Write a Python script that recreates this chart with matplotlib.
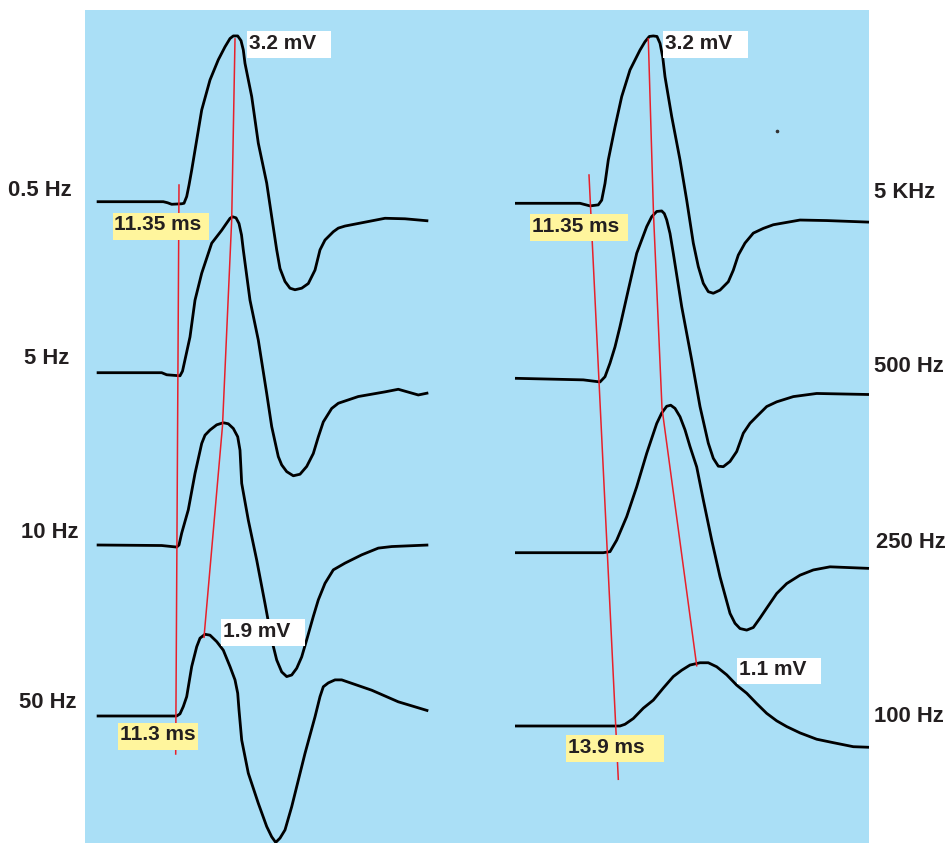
import matplotlib
matplotlib.use("Agg")
import matplotlib.pyplot as plt
from matplotlib.patches import Rectangle

plt.rcParams["font.family"] = ["Liberation Sans", "DejaVu Sans"]

# ---------------------------------------------------------------------------
# Recorded compound action potentials.
# t_*: position along the sweep (canvas units), v_*: amplitude in mV
# relative to the pre-stimulus baseline.
# ---------------------------------------------------------------------------
left_labels = ["0.5 Hz", "5 Hz", "10 Hz", "50 Hz"]
right_labels = ["5 KHz", "500 Hz", "250 Hz", "100 Hz"]

t_0p5hz = [96.7, 163.3, 167.5, 171.7, 181.7, 184, 186.7, 189, 191.7, 196.7, 201.7, 210,
           218.3, 225, 230, 233.3, 237.7, 241, 243.3, 245, 251.7, 258.3, 266.7, 271.7,
           276.7, 280, 285, 290, 295, 301.7, 308.3, 315, 320, 325, 333.3, 338.3, 345,
           358.3, 385, 405, 428.3]
v_0p5hz = [0, 0, -0.02, -0.05, -0.04, -0.03, 0.10, 0.32, 0.61, 1.19, 1.77, 2.35,
           2.74, 2.99, 3.15, 3.20, 3.20, 3.11, 2.93, 2.67, 2.03, 1.13, 0.36, -0.29,
           -0.93, -1.29, -1.54, -1.67, -1.70, -1.67, -1.58, -1.32, -0.93, -0.74, -0.58, -0.51, -0.47,
           -0.42, -0.32, -0.33, -0.37]

t_5hz = [96.7, 161.7, 166.7, 180, 182.5, 185, 190, 195, 201.7, 211.7, 221.7, 226, 230,
         232.5, 236, 239, 241.5, 243.3, 250, 258.3, 266.7, 271.7, 278.3, 281.7, 286.7,
         293.3, 300, 306.7, 313.3, 318.3, 323.3, 331.7, 338.3, 358.3, 385, 398.3, 418.3, 428.3]
v_5hz = [0, 0, -0.04, -0.06, 0.03, 0.25, 0.69, 1.40, 1.92, 2.50, 2.75, 2.87, 2.98,
         3.01, 2.99, 2.88, 2.66, 2.37, 1.40, 0.63, -0.40, -1.04, -1.62, -1.78, -1.91,
         -1.99, -1.96, -1.81, -1.56, -1.24, -0.95, -0.69, -0.59, -0.46, -0.37, -0.32, -0.43, -0.39]

t_10hz = [96.7, 161.7, 176.7, 179, 181.7, 188.3, 195, 201.7, 205, 210, 216.7, 223.3,
          228.3, 233.3, 237.7, 240, 241.7, 248.3, 256.7, 265, 271.7, 276.7, 281.7, 286.7,
          291.7, 296.7, 301.7, 306.7, 313.3, 318.3, 325, 333.3, 345, 361.7, 378.3, 391.7, 428.3]
v_10hz = [0, -0.01, -0.04, 0, 0.23, 0.68, 1.38, 1.96, 2.12, 2.22, 2.32, 2.36,
          2.34, 2.25, 2.09, 1.83, 1.19, 0.48, -0.29, -1.13, -1.83, -2.22, -2.45, -2.54,
          -2.51, -2.38, -2.16, -1.83, -1.38, -1.06, -0.74, -0.48, -0.35, -0.19, -0.06, -0.03, 0]

t_50hz = [96.7, 176.7, 180, 183.3, 186.7, 191.7, 196.7, 200, 205, 210, 216.7, 223.3,
          230, 235, 237.7, 239, 241.7, 248.3, 258.3, 266.7, 271.7, 275.7, 280, 285,
          291.7, 305, 315, 320, 323.3, 328.3, 335, 341.7, 351.7, 371.7, 398.3, 428.3]
v_50hz = [0, 0, 0.05, 0.22, 0.45, 1.15, 1.61, 1.81, 1.90, 1.88, 1.73, 1.53,
          1.15, 0.84, 0.53, 0.14, -0.56, -1.33, -2.03, -2.57, -2.81, -2.94, -2.84, -2.65,
          -2.11, -0.87, -0.02, 0.45, 0.68, 0.77, 0.84, 0.84, 0.76, 0.60, 0.33, 0.12]

t_5khz = [515, 580, 590, 598.3, 601.7, 605, 608.3, 615, 621.7, 630, 640, 645, 649.3,
          653.3, 657, 660, 662.7, 665, 671.7, 680, 686.7, 693.3, 698.3, 703.3, 708.3,
          713.3, 720, 728.3, 733.3, 738.3, 745, 753.3, 763.3, 773.3, 800, 826.7, 869]
v_5khz = [0, 0, -0.05, -0.03, 0.06, 0.38, 0.83, 1.46, 2.04, 2.55, 2.93, 3.09, 3.19,
          3.20, 3.19, 3.06, 2.80, 2.42, 1.66, 0.83, 0.06, -0.76, -1.21, -1.53, -1.69,
          -1.72, -1.66, -1.50, -1.28, -0.99, -0.76, -0.57, -0.48, -0.41, -0.32, -0.33, -0.36]

t_500hz = [515, 583.3, 600, 605, 610, 615, 620, 628.3, 636.7, 646.7, 651.7, 656.7,
           661.7, 664.3, 666.7, 670, 673.3, 681.7, 691.7, 700, 708.3, 713.3, 718.3, 723.3,
           730, 736.7, 743.3, 750, 756.7, 766.7, 776.7, 793.3, 816.7, 869]
v_500hz = [0, -0.03, -0.07, 0.03, 0.29, 0.60, 0.99, 1.69, 2.39, 2.90, 3.09, 3.19,
           3.20, 3.15, 3.03, 2.77, 2.39, 1.37, 0.35, -0.54, -1.24, -1.53, -1.68, -1.69,
           -1.59, -1.40, -1.05, -0.86, -0.73, -0.54, -0.45, -0.35, -0.29, -0.31]

t_250hz = [515, 603.3, 610, 616.7, 626.7, 636.7, 646.7, 656.7, 661.7, 666.7, 670.7, 675,
           680, 685, 690, 696.7, 703.3, 711.7, 720, 730, 735, 740, 746.7, 753.3, 760,
           766.7, 776.7, 786.7, 800, 813.3, 830, 869]
v_250hz = [0, 0, 0.02, 0.24, 0.69, 1.26, 1.90, 2.47, 2.67, 2.80, 2.82, 2.76,
           2.60, 2.35, 2.03, 1.64, 1.01, 0.24, -0.46, -1.16, -1.35, -1.45, -1.48, -1.43, -1.25,
           -1.06, -0.78, -0.59, -0.43, -0.33, -0.27, -0.30]

t_100hz = [515, 620, 625, 633.3, 643.3, 653.3, 663.3, 673.3, 681.7, 690, 700, 708.3,
           716.7, 726.7, 736.7, 746.7, 756.7, 766.7, 776.7, 786.7, 800, 816.7, 833.3, 853.3, 869]
v_100hz = [0, 0, 0.03, 0.13, 0.31, 0.45, 0.66, 0.86, 0.97, 1.06, 1.10, 1.10,
           1.03, 0.89, 0.71, 0.57, 0.39, 0.22, 0.09, -0.01, -0.12, -0.23, -0.29, -0.36, -0.37]

# onset latencies reported for the first and last sweep of each column
latency_left = ["11.35 ms", "11.3 ms"]
latency_right = ["11.35 ms", "13.9 ms"]

# ---------------------------------------------------------------------------
# Layout: baseline row and display gain (canvas units per mV) of each sweep
# ---------------------------------------------------------------------------
W, H = 947, 843
left_traces = [(t_0p5hz, v_0p5hz), (t_5hz, v_5hz), (t_10hz, v_10hz), (t_50hz, v_50hz)]
right_traces = [(t_5khz, v_5khz), (t_500hz, v_500hz), (t_250hz, v_250hz), (t_100hz, v_100hz)]
left_base = [201.7, 372.7, 545.0, 716.0]
right_base = [203.3, 378.3, 552.7, 726.0]
left_gain = [51.8, 51.8, 51.8, 43.0]
right_gain = [52.3, 52.3, 52.3, 57.5]

BG = "#aadff6"
INK = "#231f20"
RED = "#e8202a"
YELLOW = "#fff59d"
FS_TAG = 15
FS_NAME = 15.8

fig = plt.figure(figsize=(W / 100, H / 100), dpi=100)
ax = fig.add_axes([0, 0, 1, 1])
ax.set_xlim(0, W)
ax.set_ylim(H, 0)
ax.axis("off")

ax.add_patch(Rectangle((85, 10), 869 - 85, H - 10, facecolor=BG, edgecolor="none", zorder=0))


def to_canvas(v, base, gain):
    return [base - gain * a for a in v]


def peak_point(t, v, base, gain):
    i = max(range(len(v)), key=lambda k: v[k])
    return t[i], base - gain * v[i], v[i]


for traces, bases, gains in ((left_traces, left_base, left_gain),
                             (right_traces, right_base, right_gain)):
    for (t, v), b, g in zip(traces, bases, gains):
        ax.plot(t, to_canvas(v, b, g), color="black", lw=2.0,
                solid_joinstyle="round", solid_capstyle="butt", zorder=2)

# stray speck on the recording
ax.plot([776.7], [131], marker="o", ms=1.6, color="#333333", zorder=2)

# latency guides (onset) and peak guides
ax.plot([179, 175.7], [185, 754], color=RED, lw=1.1, zorder=3)
ax.plot([589, 618.3], [175, 779.3], color=RED, lw=1.1, zorder=3)

left_peaks = [peak_point(t, v, b, g) for (t, v), b, g in zip(left_traces, left_base, left_gain)]
right_peaks = [peak_point(t, v, b, g) for (t, v), b, g in zip(right_traces, right_base, right_gain)]
guide_x_left = [235, 231.7, 222.5, 204]
guide_x_right = [648.3, 653.5, 662, 696.7]
ax.plot(guide_x_left, [p[1] + 3 for p in left_peaks], color=RED, lw=1.1, zorder=3)
ax.plot(guide_x_right, [p[1] + 3 for p in right_peaks], color=RED, lw=1.1, zorder=3)


def tag(x, y, w, h, text, face):
    ax.add_patch(Rectangle((x, y), w, h, facecolor=face, edgecolor="none", zorder=4))
    ax.text(x + 2, y + 17.7, text, fontsize=FS_TAG, fontweight="bold", color=INK,
            ha="left", va="baseline", zorder=5)


# amplitude tags (values taken from the sweeps' peaks)
tag(247.3, 31, 83.4, 26.7, f"{left_peaks[0][2]:.1f} mV", "white")
tag(221, 619, 84, 26.7, f"{left_peaks[3][2]:.1f} mV", "white")
tag(663.3, 31, 84.7, 26.7, f"{right_peaks[0][2]:.1f} mV", "white")
tag(736.7, 657.7, 84.3, 26.7, f"{right_peaks[3][2]:.1f} mV", "white")

# latency tags
tag(112.5, 212.5, 96, 27.5, latency_left[0], YELLOW)
tag(117.5, 722.5, 80, 27.5, latency_left[1], YELLOW)
tag(530, 214, 98, 26.7, latency_right[0], YELLOW)
tag(566, 735, 98, 26.7, latency_right[1], YELLOW)

# sweep names
left_pos = [(8, 190), (24, 359), (21, 532), (19, 702)]
right_pos = [(874, 192), (874, 367), (876, 542), (874, 717)]
for lab, (x, y) in zip(left_labels, left_pos):
    ax.text(x, y, lab, fontsize=FS_NAME, fontweight="bold", color=INK, ha="left", va="center")
for lab, (x, y) in zip(right_labels, right_pos):
    ax.text(x, y, lab, fontsize=FS_NAME, fontweight="bold", color=INK, ha="left", va="center")

fig.savefig("out.png", dpi=100, facecolor="white")
